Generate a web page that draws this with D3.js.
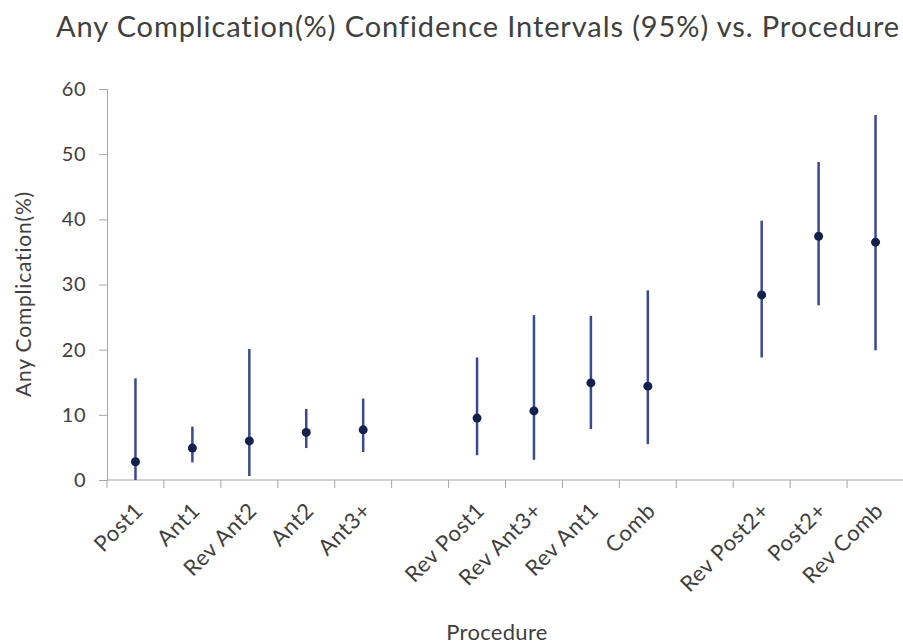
<!DOCTYPE html>
<html>
<head>
<meta charset="utf-8">
<script src="https://cdn.jsdelivr.net/npm/d3@7"></script>
<style>
  body { margin: 0; background: #fff; }
  svg text { font-family: Lato, "Open Sans", sans-serif; fill: #404040; }
</style>
</head>
<body>
<svg id="chart" width="903" height="644"></svg>
<script>
// procedures in display order, "" = empty gap slot
var procedures = ["Post1","Ant1","Rev Ant2","Ant2","Ant3+","","Rev Post1","Rev Ant3+","Rev Ant1","Comb","","Rev Post2+","Post2+","Rev Comb"]
var estimate  = [2.8, 4.9, 6.0, 7.3, 7.7, null, 9.5, 10.6, 14.9, 14.4, null, 28.4, 37.4, 36.5]
var lowerCI   = [0.0, 2.7, 0.6, 4.9, 4.3, null, 3.8, 3.1, 7.8, 5.5, null, 18.8, 26.8, 19.9]
var upperCI   = [15.6, 8.2, 20.1, 10.9, 12.5, null, 18.8, 25.3, 25.2, 29.1, null, 39.8, 48.8, 56.0]
var yTicks = [0, 10, 20, 30, 40, 50, 60]

var svg = d3.select("#chart"),
    plotLeft = 107, plotRight = 904, plotTop = 89, plotBottom = 480

var slots = procedures.map(function(d, i){ return "s" + i })

var x = d3.scaleBand().domain(slots).range([plotLeft, plotRight]).paddingInner(0).paddingOuter(0)
var y = d3.scaleLinear().domain([0, 60]).range([plotBottom, plotTop])

var rows = procedures.map(function(p, i){
  return { slot: slots[i], name: p, est: estimate[i], lo: lowerCI[i], hi: upperCI[i] }
}).filter(function(d){ return d.est != null })

// y axis
var yAxis = svg.append("g")
  .attr("transform", "translate(" + plotLeft + ",0)")
  .call(d3.axisLeft(y).tickValues(yTicks).tickSize(8).tickPadding(13))
yAxis.select(".domain").attr("stroke", "#a6a6a6")
yAxis.selectAll(".tick line").attr("stroke", "#a6a6a6")
yAxis.selectAll(".tick text")
  .attr("fill", "#404040")
  .style("font-family", "Lato, sans-serif")
  .style("font-size", "20px")
  .style("letter-spacing", "0.5px")

// x axis: ticks between categories
var xAxisG = svg.append("g").attr("transform", "translate(0," + plotBottom + ")")
xAxisG.append("line")
  .attr("x1", plotLeft).attr("x2", plotRight)
  .attr("stroke", "#a6a6a6")
xAxisG.selectAll(".xtick")
  .data(slots.concat(["end"]))
  .enter().append("line")
  .attr("class", "xtick")
  .attr("x1", function(d){ return d == "end" ? plotRight : x(d) })
  .attr("x2", function(d){ return d == "end" ? plotRight : x(d) })
  .attr("y1", 0).attr("y2", 8)
  .attr("stroke", "#a6a6a6")

xAxisG.selectAll(".xlabel")
  .data(rows)
  .enter().append("text")
  .attr("class", "xlabel")
  .attr("text-anchor", "end")
  .attr("transform", function(d){
    var cx = x(d.slot) + x.bandwidth() / 2
    return "translate(" + (cx + 9) + ",32) rotate(-45)"
  })
  .style("font-size", "22px")
  .style("letter-spacing", "0.6px")
  .text(function(d){ return d.name })

// error bars
svg.selectAll(".ci")
  .data(rows)
  .enter().append("line")
  .attr("class", "ci")
  .attr("x1", function(d){ return x(d.slot) + x.bandwidth() / 2 })
  .attr("x2", function(d){ return x(d.slot) + x.bandwidth() / 2 })
  .attr("y1", function(d){ return y(d.lo) })
  .attr("y2", function(d){ return y(d.hi) })
  .attr("stroke", "#3a4a8e")
  .attr("stroke-width", 2.5)

svg.selectAll(".dot")
  .data(rows)
  .enter().append("circle")
  .attr("class", "dot")
  .attr("cx", function(d){ return x(d.slot) + x.bandwidth() / 2 })
  .attr("cy", function(d){ return y(d.est) })
  .attr("r", 4.5)
  .attr("fill", "#13214d")

// titles
svg.append("text")
  .attr("x", 478).attr("y", 37)
  .attr("text-anchor", "middle")
  .style("font-size", "29px")
  .style("letter-spacing", "0.9px")
  .attr("fill", "#262626")
  .text("Any Complication(%) Confidence Intervals (95%) vs. Procedure")

svg.append("text")
  .attr("transform", "translate(31,294) rotate(-90)")
  .attr("text-anchor", "middle")
  .style("font-size", "21px")
  .style("letter-spacing", "0.8px")
  .text("Any Complication(%)")

svg.append("text")
  .attr("x", 497).attr("y", 640)
  .attr("text-anchor", "middle")
  .style("font-size", "22px")
  .style("letter-spacing", "0.3px")
  .text("Procedure")
</script>
</body>
</html>
